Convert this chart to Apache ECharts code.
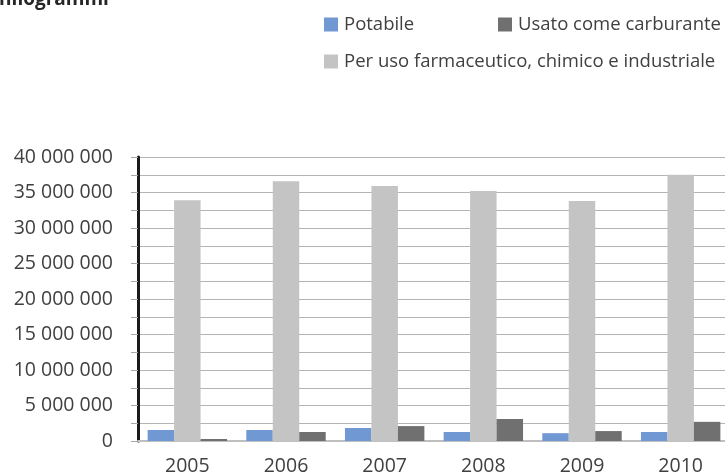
<!DOCTYPE html>
<html>
<head>
<meta charset="utf-8">
<script src="https://cdn.jsdelivr.net/npm/echarts@6/dist/echarts.min.js"></script>
<style>
  html, body { margin: 0; padding: 0; background: #fff; }
  #chart { width: 725px; height: 475px; }
</style>
</head>
<body>
<div id="chart"></div>
<script>
// Data (kg)
const years = ['2005', '2006', '2007', '2008', '2009', '2010'];
const potabile = [1550000, 1550000, 1830000, 1270000, 1100000, 1270000];
const industriale = [33900000, 36600000, 35900000, 35200000, 33800000, 37500000];
const carburante = [280000, 1270000, 2100000, 3100000, 1400000, 2700000];

const FONT = '"Open Sans", "Noto Sans", sans-serif';
const TEXT = '#404040';

// format with spaces as thousand separator
function fmt(v) {
  return String(v).replace(/\B(?=(\d{3})+(?!\d))/g, ' ');
}

function legendItem(name, left, top) {
  return {
    data: [name],
    left: left,
    top: top,
    itemWidth: 14,
    itemHeight: 14,
    itemGap: 0,
    icon: 'rect',
    textStyle: { color: TEXT, fontSize: 18.5, fontFamily: FONT, padding: [0, 0, 0, 1] }
  };
}

document.addEventListener('DOMContentLoaded', function () {
  const myChart = echarts.init(document.getElementById('chart'));
  const option = {
    animation: false,
    graphic: [{
      type: 'text',
      left: -13,
      top: -10,
      style: { text: 'Chilogrammi', fontSize: 19, fontWeight: 'bold', fontFamily: FONT, fill: '#262626' }
    }],
    legend: [
      legendItem('Potabile', 319, 10),
      legendItem('Usato come carburante', 493, 10),
      legendItem('Per uso farmaceutico, chimico e industriale', 319, 47)
    ],
    grid: { left: 138, top: 157, bottom: 34, right: -5, containLabel: false, outerBoundsMode: 'none' },
    xAxis: {
      type: 'category',
      data: years,
      axisLine: { lineStyle: { color: '#bfbfbf', width: 2 } },
      axisTick: { show: false },
      axisLabel: { color: TEXT, fontSize: 19.5, fontFamily: FONT, margin: 15 }
    },
    yAxis: {
      type: 'value',
      min: 0,
      max: 40000000,
      interval: 2500000,
      axisLine: { show: true, lineStyle: { color: '#1a1a1a', width: 3 } },
      axisTick: { show: true, length: 7, lineStyle: { color: '#a6a6a6' } },
      axisLabel: {
        color: TEXT, fontSize: 19.5, fontFamily: FONT, margin: 25,
        formatter: function (v) { return v % 5000000 === 0 ? fmt(v) : ''; }
      },
      splitLine: { lineStyle: { color: '#b4b4b4', width: 1 } }
    },
    series: [
      {
        name: 'Potabile', type: 'bar', data: potabile,
        barGap: '0%', barCategoryGap: '19.5%',
        itemStyle: { color: '#7099d3' }
      },
      {
        name: 'Per uso farmaceutico, chimico e industriale', type: 'bar', data: industriale,
        itemStyle: { color: '#c4c4c4' }
      },
      {
        name: 'Usato come carburante', type: 'bar', data: carburante,
        itemStyle: { color: '#707070' }
      }
    ]
  };
  myChart.setOption(option);
});
</script>
</body>
</html>
